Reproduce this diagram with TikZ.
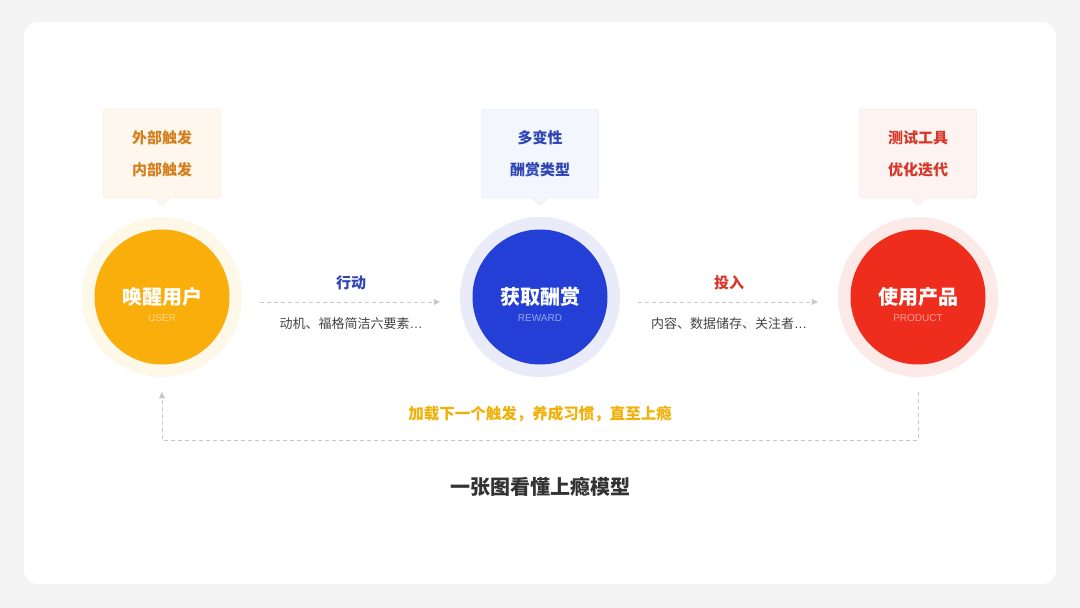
\documentclass[tikz,border=0pt]{standalone}
\usepackage{fontspec}
\setmainfont{Noto Sans CJK SC}
\newfontfamily\latinsf{Liberation Sans}
\usetikzlibrary{positioning,shapes.callouts,arrows.meta}

\definecolor{bggray}{HTML}{F4F4F4}
\definecolor{userorange}{HTML}{F9AE0C}
\definecolor{userhaloc}{HTML}{FDF8E8}
\definecolor{rewardblue}{HTML}{233FD6}
\definecolor{rewardhaloc}{HTML}{E9ECF8}
\definecolor{productred}{HTML}{EE2D1D}
\definecolor{producthaloc}{HTML}{FCEAE8}
\definecolor{usertipfill}{HTML}{FDF7EE}
\definecolor{usertipline}{HTML}{F2E6D3}
\definecolor{usertiptext}{HTML}{D4801F}
\definecolor{rewardtipfill}{HTML}{F4F6FD}
\definecolor{rewardtipline}{HTML}{DCE1F2}
\definecolor{rewardtiptext}{HTML}{2E45B5}
\definecolor{producttipfill}{HTML}{FDF4F2}
\definecolor{producttipline}{HTML}{F2DEDA}
\definecolor{producttiptext}{HTML}{D7372A}
\definecolor{dashgray}{HTML}{C8C8C8}
\definecolor{notegray}{HTML}{444444}
\definecolor{loopyellow}{HTML}{F0B10A}
\definecolor{titlegray}{HTML}{333333}

\begin{document}
\begin{tikzpicture}[
            x=1pt,y=-1pt,
            halo/.style={circle,minimum size=160pt,inner sep=0pt},
            core/.style={circle,minimum size=135pt,inner sep=0pt,text=white,
                font=\fontsize{20}{20}\selectfont\bfseries},
            engname/.style={font=\latinsf\fontsize{10}{10}\selectfont},
            tipbox/.style={rectangle callout,rounded corners=3pt,minimum width=117pt,
                minimum height=89pt,align=center,callout pointer width=14pt,
                font=\fontsize{15}{32}\selectfont\bfseries},
            flow/.style={draw=dashgray,dash pattern=on 4pt off 3pt,
                -{Triangle[length=6pt,width=6pt]}},
            steplabel/.style={font=\fontsize{15}{15}\selectfont\bfseries},
            stepnote/.style={font=\fontsize{13}{13}\selectfont,text=notegray}
        ]
            % card
            \fill[bggray] (0,0) rectangle (1080,608);
            \fill[white,rounded corners=14pt] (24,22) rectangle (1056,584);

            % the three stages
            \node (userhalo)    [halo,fill=userhaloc]         at (162,297) {};
            \node (user)        [core,fill=userorange]        at (162,297) {唤醒用户};
            \node (rewardhalo)  [halo,fill=rewardhaloc]       at (540,297) {};
            \node (reward)      [core,fill=rewardblue]        at (540,297) {获取酬赏};
            \node (producthalo) [halo,fill=producthaloc]      at (918,297) {};
            \node (product)     [core,fill=productred]        at (918,297) {使用产品};

            \node (usereng)    [engname,text=userorange!45!white]  at ([yshift=-21pt]user.center)    {USER};
            \node (rewardeng)  [engname,text=rewardblue!45!white]  at ([yshift=-21pt]reward.center)  {REWARD};
            \node (producteng) [engname,text=productred!45!white]  at ([yshift=-21pt]product.center) {PRODUCT};

            % callouts
            \node (usertip) [tipbox,fill=usertipfill,draw=usertipline,text=usertiptext,
                callout absolute pointer={([yshift=11pt]userhalo.north)}] at (162,153.5) {外部触发\\内部触发};
            \node (rewardtip) [tipbox,fill=rewardtipfill,draw=rewardtipline,text=rewardtiptext,
                callout absolute pointer={([yshift=11pt]rewardhalo.north)}] at (540,153.5) {多变性\\酬赏类型};
            \node (producttip) [tipbox,fill=producttipfill,draw=producttipline,text=producttiptext,
                callout absolute pointer={([yshift=11pt]producthalo.north)}] at (918,153.5) {测试工具\\优化迭代};

            % connectors
            \draw [flow,shorten <=18pt,shorten >=20pt] ([yshift=-5pt]userhalo.east) --
                node (act)   [midway,yshift=19pt,steplabel,text=rewardtiptext] {行动}
                node (actnote) [midway,yshift=-22pt,stepnote] {动机、福格简洁六要素{\latinsf …}}
                ([yshift=-5pt]rewardhalo.west);
            \draw [flow,shorten <=18pt,shorten >=20pt] ([yshift=-5pt]rewardhalo.east) --
                node (invest) [midway,yshift=19pt,steplabel,text=producttiptext] {投入}
                node (investnote) [midway,yshift=-22pt,stepnote] {内容、数据储存、关注者{\latinsf …}}
                ([yshift=-5pt]producthalo.west);
            \draw [flow,shorten <=15pt,shorten >=15pt] (producthalo.south) -- ++(0,63) -| (userhalo.south);

            \node (loopnote) [font=\fontsize{15.5}{15.5}\selectfont\bfseries,text=loopyellow] at (540,414)
                {加载下一个触发，养成习惯，直至上瘾};
            \node (title) [font=\fontsize{20}{20}\selectfont\bfseries,text=titlegray] at (540,487)
                {一张图看懂上瘾模型};
        \end{tikzpicture}
\end{document}
